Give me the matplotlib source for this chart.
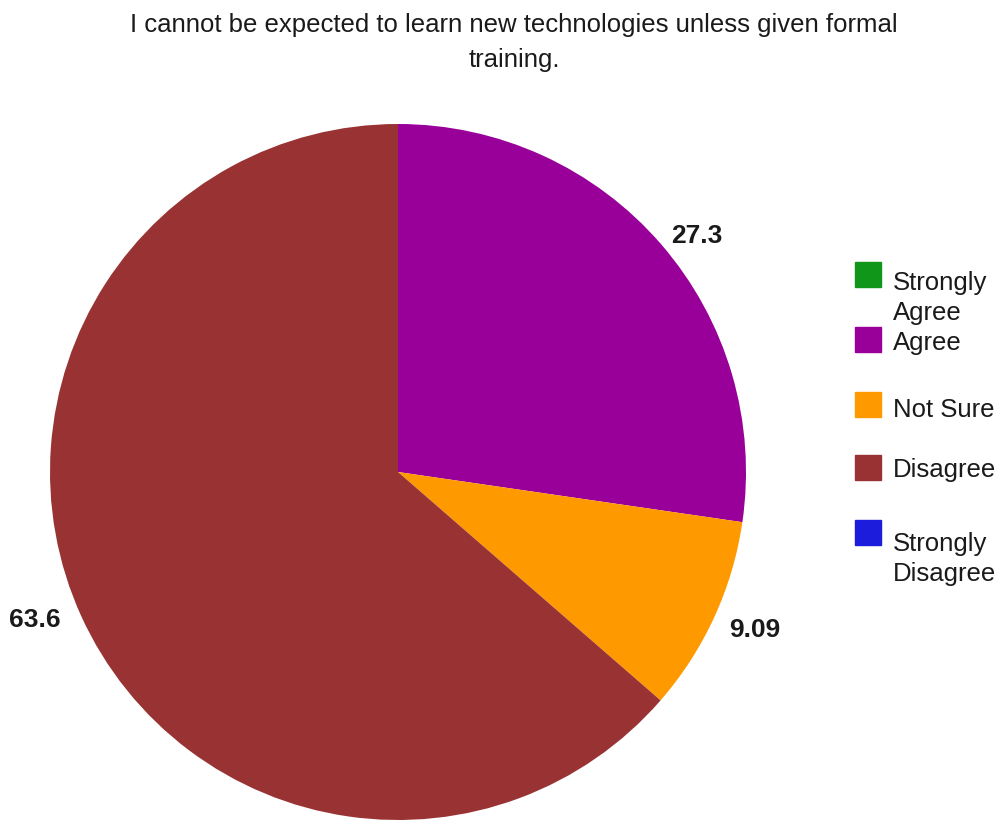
import matplotlib.pyplot as plt
from matplotlib.patches import Rectangle

plt.rcParams['font.family'] = ['Liberation Sans', 'DejaVu Sans']

title = "I cannot be expected to learn new technologies unless given formal\ntraining."
categories = ["Strongly\nAgree", "Agree", "Not Sure", "Disagree", "Strongly\nDisagree"]
values = [0, 27.3, 9.09, 63.6, 0]
colors = ["#109618", "#990099", "#FF9900", "#993333", "#1C1CDC"]
value_labels = ["", "27.3", "9.09", "63.6", ""]

fig = plt.figure(figsize=(10, 8.21), dpi=100)

# pie axes: circle centred at (398, 472) px, radius 348 px
W, H = 1000, 821
cx, cy, r = 398, 472, 348
ax = fig.add_axes([(cx - r) / W, (H - cy - r) / H, 2 * r / W, 2 * r / H])
ax.pie(values, colors=colors, startangle=90, counterclock=False, radius=1,
       wedgeprops=dict(linewidth=0))
ax.set_xlim(-1, 1)
ax.set_ylim(-1, 1)
ax.set_aspect('equal')
ax.axis('off')

# value labels outside the slices
label_pos = {"27.3": (0.859, 0.678), "9.09": (1.026, -0.454), "63.6": (-1.043, -0.425)}
for lab in value_labels:
    if lab:
        x, y = label_pos[lab]
        ax.text(x, y, lab, ha='center', va='center', fontsize=19,
                fontweight='bold', color='#1a1a1a', clip_on=False)

# two-line title, baselines at 32 and 67 px
title_lines = title.split("\n")
for line, base in zip(title_lines, [32, 67]):
    fig.text(0.514, (H - base) / H, line, ha='center', va='baseline',
             fontsize=18.5, color='#1a1a1a')

# legend on the right
square_top = [262, 327, 392, 455, 520]
text_base = [290, 350, 417, 477, 551]
for lab, col, top, base in zip(categories, colors, square_top, text_base):
    fig.patches.append(Rectangle((855 / W, (H - top - 25) / H), 26 / W, 25 / H,
                                 transform=fig.transFigure, color=col))
    for i, part in enumerate(lab.split("\n")):
        fig.text(893 / W, (H - base - 30 * i) / H, part, ha='left',
                 va='baseline', fontsize=18.5, color='#1a1a1a')

fig.savefig("out.png", dpi=100, facecolor='white')
